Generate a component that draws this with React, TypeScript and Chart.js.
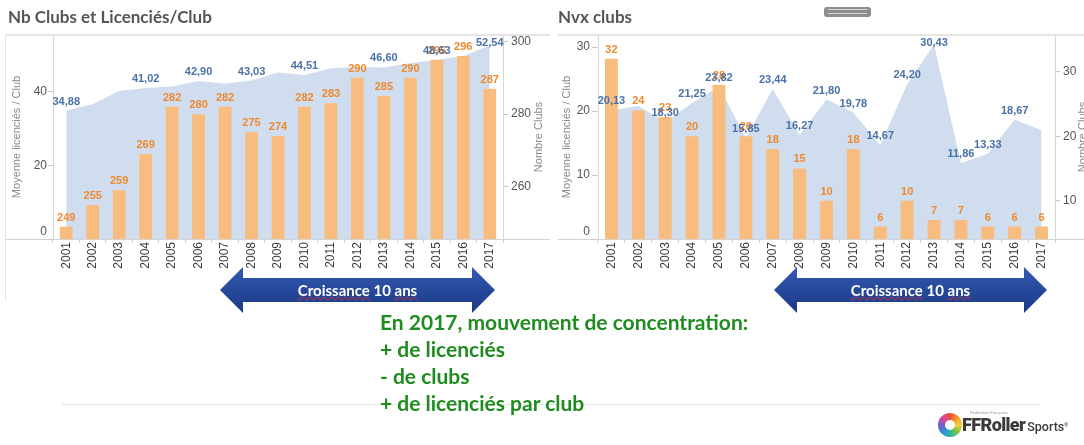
import React, { useEffect, useRef } from 'react';
import { Chart, registerables } from 'chart.js';

Chart.register(...registerables);

// ---------- DATA ----------
const YEARS = ['2001', '2002', '2003', '2004', '2005', '2006', '2007', '2008', '2009', '2010', '2011', '2012', '2013', '2014', '2015', '2016', '2017'];

// Left panel: "Nb Clubs et Licenciés/Club"
const NB_CLUBS = [249, 255, 259, 269, 282, 280, 282, 275, 274, 282, 283, 290, 285, 290, 295, 296, 287];
const LIC_PAR_CLUB = [34.88, 36.6, 40.2, 41.02, 41.4, 42.9, 42.2, 43.03, 45.2, 44.51, 46.4, 46.8, 46.6, 47.8, 48.63, 49.7, 52.54];
const LIC_PAR_CLUB_SHOWN = ['2001', '2004', '2006', '2008', '2010', '2013', '2015', '2017'];
const LEFT_MOY_TICKS = [0, 20, 40];
const LEFT_CLUB_TICKS = [260, 280, 300];

// Right panel: "Nvx clubs"
const NVX_CLUBS = [32, 24, 23, 20, 28, 20, 18, 15, 10, 18, 6, 10, 7, 7, 6, 6, 6];
const LIC_PAR_NVX_CLUB = [20.13, 20.8, 18.3, 21.25, 23.82, 15.85, 23.44, 16.27, 21.8, 19.78, 14.67, 24.2, 30.43, 11.86, 13.33, 18.67, 17.0];
const LIC_PAR_NVX_CLUB_SHOWN = ['2001', '2003', '2004', '2005', '2006', '2007', '2008', '2009', '2010', '2011', '2012', '2013', '2014', '2015', '2016'];
const RIGHT_MOY_TICKS = [0, 10, 20, 30];
const RIGHT_CLUB_TICKS = [10, 20, 30];

const TITLE_LEFT = 'Nb Clubs et Licenciés/Club';
const TITLE_RIGHT = 'Nvx clubs';
const AXIS_MOY = 'Moyenne licenciés / Club';
const AXIS_CLUBS = 'Nombre Clubs';
const ARROW_TEXT = ['Croissance', ' 10 ', 'ans'];
const NOTE_LINES = ['En 2017, mouvement de concentration:', '+ de licenciés', '- de clubs', '+ de licenciés par club'];

// ---------- STYLE ----------
const FONT = '"Liberation Sans", Arial, sans-serif';
const HFONT = 'Lato, "Open Sans", sans-serif';
const BAR_COLOR = '#f8bc7e';
const AREA_COLOR = '#d0ddee';
const BAR_TEXT = '#ee8a2e';
const AREA_TEXT = '#4a72a6';

const fmt = (v: number) => v.toFixed(2).replace('.', ',');

type PanelCfg = {
  left: number;
  width: number;
  bars: number[];
  area: number[];
  shown: string[];
  moyMax: number;
  moyTicks: number[];
  clubMin: number;
  clubMax: number;
  clubTicks: number[];
  leftW: number;
  rightW: number;
  lTick: number;
  lPad: number;
  rTick: number;
  rPad: number;
  titleLX: number;
  titleRX: number;
  lineFrom: number;
  lineTo: number;
  leftBorder: boolean;
};

const LEFT_PANEL: PanelCfg = {
  left: 0, width: 550, bars: NB_CLUBS, area: LIC_PAR_CLUB, shown: LIC_PAR_CLUB_SHOWN,
  moyMax: 55.4, moyTicks: LEFT_MOY_TICKS, clubMin: 245.6, clubMax: 301.8, clubTicks: LEFT_CLUB_TICKS,
  leftW: 53, rightW: 47, lTick: 5, lPad: 1, rTick: 5, rPad: 3,
  titleLX: 16.5, titleRX: 539, lineFrom: 5, lineTo: 550, leftBorder: true,
};

const RIGHT_PANEL: PanelCfg = {
  left: 550, width: 534, bars: NVX_CLUBS, area: LIC_PAR_NVX_CLUB, shown: LIC_PAR_NVX_CLUB_SHOWN,
  moyMax: 31.9, moyTicks: RIGHT_MOY_TICKS, clubMin: 4.06, clubMax: 35.7, clubTicks: RIGHT_CLUB_TICKS,
  leftW: 48, rightW: 29, lTick: 6, lPad: 2, rTick: 5, rPad: 3,
  titleLX: 16.5, titleRX: 532.5, lineFrom: 7.5, lineTo: 534, leftBorder: false,
};

function Panel({ cfg }: { cfg: PanelCfg }) {
  const ref = useRef<HTMLCanvasElement>(null);
  useEffect(() => {
    const p = cfg;
    const deco = {
      id: 'deco',
      beforeDraw(chart: any) {
        const ctx = chart.ctx;
        const { top, bottom } = chart.chartArea;
        ctx.save();
        ctx.strokeStyle = '#dcdcdc';
        ctx.lineWidth = 1.5;
        ctx.beginPath();
        ctx.moveTo(p.lineFrom, top);
        ctx.lineTo(p.lineTo, top);
        ctx.stroke();
        ctx.lineWidth = 1;
        ctx.strokeStyle = '#d4d4d4';
        ctx.beginPath();
        ctx.moveTo(p.lineFrom, bottom + 0.5);
        ctx.lineTo(p.lineTo, bottom + 0.5);
        ctx.stroke();
        if (p.leftBorder) {
          ctx.strokeStyle = '#e2e2e2';
          ctx.beginPath();
          ctx.moveTo(5.5, top);
          ctx.lineTo(5.5, 300);
          ctx.stroke();
        }
        ctx.restore();
      },
      afterDraw(chart: any) {
        const ctx = chart.ctx;
        const cy = (chart.chartArea.top + chart.chartArea.bottom) / 2;
        ctx.save();
        ctx.font = `11px ${FONT}`;
        ctx.fillStyle = '#8a8a8a';
        ctx.textAlign = 'center';
        ctx.textBaseline = 'middle';
        ([[p.titleLX, AXIS_MOY], [p.titleRX, AXIS_CLUBS]] as [number, string][]).forEach(([x, t]) => {
          ctx.save();
          ctx.translate(x, cy);
          ctx.rotate(-Math.PI / 2);
          ctx.fillText(t, 0, 0);
          ctx.restore();
        });
        ctx.restore();
      },
    };
    const valueLabels = {
      id: 'valueLabels',
      afterDatasetsDraw(chart: any) {
        const ctx = chart.ctx;
        const top = chart.chartArea.top;
        const barMeta = chart.getDatasetMeta(0);
        const lineMeta = chart.getDatasetMeta(1);
        ctx.save();
        ctx.font = `bold 11px ${FONT}`;
        ctx.textAlign = 'center';
        ctx.textBaseline = 'middle';
        ctx.fillStyle = BAR_TEXT;
        barMeta.data.forEach((el: any, i: number) => {
          const y = Math.max(el.y - 9, top + 8);
          ctx.fillText(String(p.bars[i]), el.x, y);
        });
        ctx.fillStyle = AREA_TEXT;
        lineMeta.data.forEach((el: any, i: number) => {
          if (!p.shown.includes(YEARS[i])) return;
          const y = Math.max(el.y - 9, top + 8);
          ctx.fillText(fmt(p.area[i]), el.x, y);
        });
        ctx.restore();
      },
    };
    const chart = new Chart(ref.current as HTMLCanvasElement, {
      type: 'bar',
      data: {
        labels: YEARS,
        datasets: [
          {
            type: 'bar',
            label: AXIS_CLUBS,
            data: p.bars,
            yAxisID: 'yClubs',
            backgroundColor: BAR_COLOR,
            barPercentage: 0.48,
            categoryPercentage: 1,
            order: 0,
          } as any,
          {
            type: 'line',
            label: AXIS_MOY,
            data: p.area,
            yAxisID: 'yMoy',
            fill: 'origin',
            backgroundColor: AREA_COLOR,
            borderColor: 'rgba(0,0,0,0)',
            borderWidth: 0,
            pointRadius: 0,
            pointHoverRadius: 0,
            tension: 0,
            order: 1,
          } as any,
        ],
      },
      options: {
        responsive: false,
        animation: false,
        devicePixelRatio: 1,
        layout: { padding: { top: 35, left: 0, right: 0, bottom: 0 } },
        plugins: { legend: { display: false }, tooltip: { enabled: false }, title: { display: false } },
        scales: {
          x: {
            offset: true,
            grid: { display: true, drawOnChartArea: false, drawTicks: true, tickLength: 4, color: '#cfcfcf', offset: true },
            border: { display: false },
            ticks: { autoSkip: false, minRotation: 90, maxRotation: 90, padding: -1, color: '#3c3c3c', font: { family: FONT, size: 12 } },
            afterFit: (s: any) => { s.height = 61; },
          },
          yMoy: {
            type: 'linear',
            position: 'left',
            min: 0,
            max: p.moyMax,
            afterBuildTicks: (s: any) => { s.ticks = p.moyTicks.map((v) => ({ value: v })); },
            grid: { drawOnChartArea: false, drawTicks: true, tickLength: p.lTick, color: '#c8c8c8' },
            border: { display: true, color: '#d8d8d8' },
            ticks: {
              padding: p.lPad,
              color: '#555',
              font: { family: FONT, size: 12 },
              callback: (v: any) => (v === 0 ? ['0', ''] : String(v)),
            },
            afterFit: (s: any) => { s.width = p.leftW; },
          },
          yClubs: {
            type: 'linear',
            position: 'right',
            min: p.clubMin,
            max: p.clubMax,
            afterBuildTicks: (s: any) => { s.ticks = p.clubTicks.map((v) => ({ value: v })); },
            grid: { drawOnChartArea: false, drawTicks: true, tickLength: p.rTick, color: '#c8c8c8' },
            border: { display: true, color: '#d8d8d8' },
            ticks: { padding: p.rPad, color: '#555', font: { family: FONT, size: 12 } },
            afterFit: (s: any) => { s.width = p.rightW; },
          },
        },
      } as any,
      plugins: [deco, valueLabels],
    });
    return () => chart.destroy();
  }, [cfg]);
  return (
    <canvas
      ref={ref}
      width={cfg.width}
      height={300}
      style={{ position: 'absolute', left: cfg.left, top: 0, display: 'block' }}
    />
  );
}

function arrowPoints(x1: number, x2: number, cy: number, head: number, halfBody: number, halfHead: number) {
  const pts = [
    [x1, cy],
    [x1 + head, cy - halfHead],
    [x1 + head, cy - halfBody],
    [x2 - head, cy - halfBody],
    [x2 - head, cy - halfHead],
    [x2, cy],
    [x2 - head, cy + halfHead],
    [x2 - head, cy + halfBody],
    [x1 + head, cy + halfBody],
    [x1 + head, cy + halfHead],
  ];
  return pts.map((p) => p.join(',')).join(' ');
}

const ARROWS = [
  { x1: 220, x2: 495 },
  { x1: 774, x2: 1047 },
];

export default function App() {
  const titleStyle = (left: number): React.CSSProperties => ({
    position: 'absolute',
    left,
    top: 6,
    fontFamily: HFONT,
    fontWeight: 700,
    fontSize: 17,
    color: '#555',
    whiteSpace: 'nowrap',
  });
  const wavy: React.CSSProperties = {
    textDecoration: 'underline wavy #e03030',
    textDecorationThickness: '1px',
    textUnderlineOffset: '0px',
  };
  return (
    <div style={{ position: 'absolute', left: 0, top: 0, width: 1084, height: 445, background: '#fff', overflow: 'hidden' }}>
      <Panel cfg={LEFT_PANEL} />
      <Panel cfg={RIGHT_PANEL} />
      <div style={titleStyle(8)}>{TITLE_LEFT}</div>
      <div style={titleStyle(558)}>{TITLE_RIGHT}</div>
      {/* scroll handle */}
      <div style={{ position: 'absolute', left: 824, top: 7, width: 47, height: 10, background: '#8e8e8e', borderRadius: 3 }}>
        <div style={{ position: 'absolute', left: 4, right: 4, top: 2, height: 1, background: '#d8d8d8' }} />
        <div style={{ position: 'absolute', left: 4, right: 4, top: 6, height: 1, background: '#d8d8d8' }} />
      </div>
      {/* arrows */}
      <svg width={1084} height={445} style={{ position: 'absolute', left: 0, top: 0 }}>
        <defs>
          <linearGradient id="arrowGrad" x1="0" y1="0" x2="0" y2="1">
            <stop offset="0" stopColor="#3259b0" />
            <stop offset="1" stopColor="#1b3886" />
          </linearGradient>
        </defs>
        {ARROWS.map((a, i) => (
          <polygon key={i} points={arrowPoints(a.x1, a.x2, 290, 23, 12, 23)} fill="url(#arrowGrad)" />
        ))}
      </svg>
      {ARROWS.map((a, i) => (
        <div
          key={i}
          style={{
            position: 'absolute',
            left: a.x1,
            width: a.x2 - a.x1,
            top: 280,
            height: 20,
            lineHeight: '20px',
            textAlign: 'center',
            color: '#fff',
            fontFamily: HFONT,
            fontWeight: 700,
            fontSize: 15,
            whiteSpace: 'nowrap',
          }}
        >
          <span style={wavy}>{ARROW_TEXT[0]}</span>
          <span>{ARROW_TEXT[1]}</span>
          <span style={wavy}>{ARROW_TEXT[2]}</span>
        </div>
      ))}
      {/* bottom separator line */}
      <div style={{ position: 'absolute', left: 62, top: 404, width: 978, height: 1, background: '#e4e4e4' }} />
      {/* note */}
      <div
        style={{
          position: 'absolute',
          left: 380,
          top: 308,
          fontFamily: HFONT,
          fontWeight: 700,
          fontSize: 21,
          lineHeight: '27px',
          color: '#1f8c1f',
          whiteSpace: 'nowrap',
        }}
      >
        {NOTE_LINES.map((l, i) => (
          <div key={i}>{l}</div>
        ))}
      </div>
      {/* logo */}
      <div
        style={{
          position: 'absolute',
          left: 938,
          top: 413,
          width: 24,
          height: 24,
          borderRadius: '50%',
          background: 'conic-gradient(#e94d3b, #f39b2d, #f5d33a, #7cc243, #2bb3a5, #2f8fd8, #7a5cc8, #d64a9b, #e94d3b)',
          filter: 'blur(0.6px)',
        }}
      >
        <div style={{ position: 'absolute', left: 7, top: 7, width: 10, height: 10, borderRadius: '50%', background: '#fff' }} />
      </div>
      <div style={{ position: 'absolute', left: 970, top: 410, fontFamily: FONT, fontSize: 4, color: '#999', whiteSpace: 'nowrap' }}>
        Fédération Française
      </div>
      <div
        style={{
          position: 'absolute',
          left: 962,
          top: 415,
          fontFamily: 'Roboto, "Liberation Sans", sans-serif',
          whiteSpace: 'nowrap',
          color: '#3a3a3a',
          lineHeight: '20px',
        }}
      >
        <span style={{ fontSize: 18, fontWeight: 900, letterSpacing: -0.6 }}>FFRoller</span>
        <span style={{ fontSize: 12.5, fontWeight: 500, marginLeft: 2 }}>Sports</span>
        <span style={{ fontSize: 5, verticalAlign: 'top' }}>®</span>
      </div>
    </div>
  );
}
